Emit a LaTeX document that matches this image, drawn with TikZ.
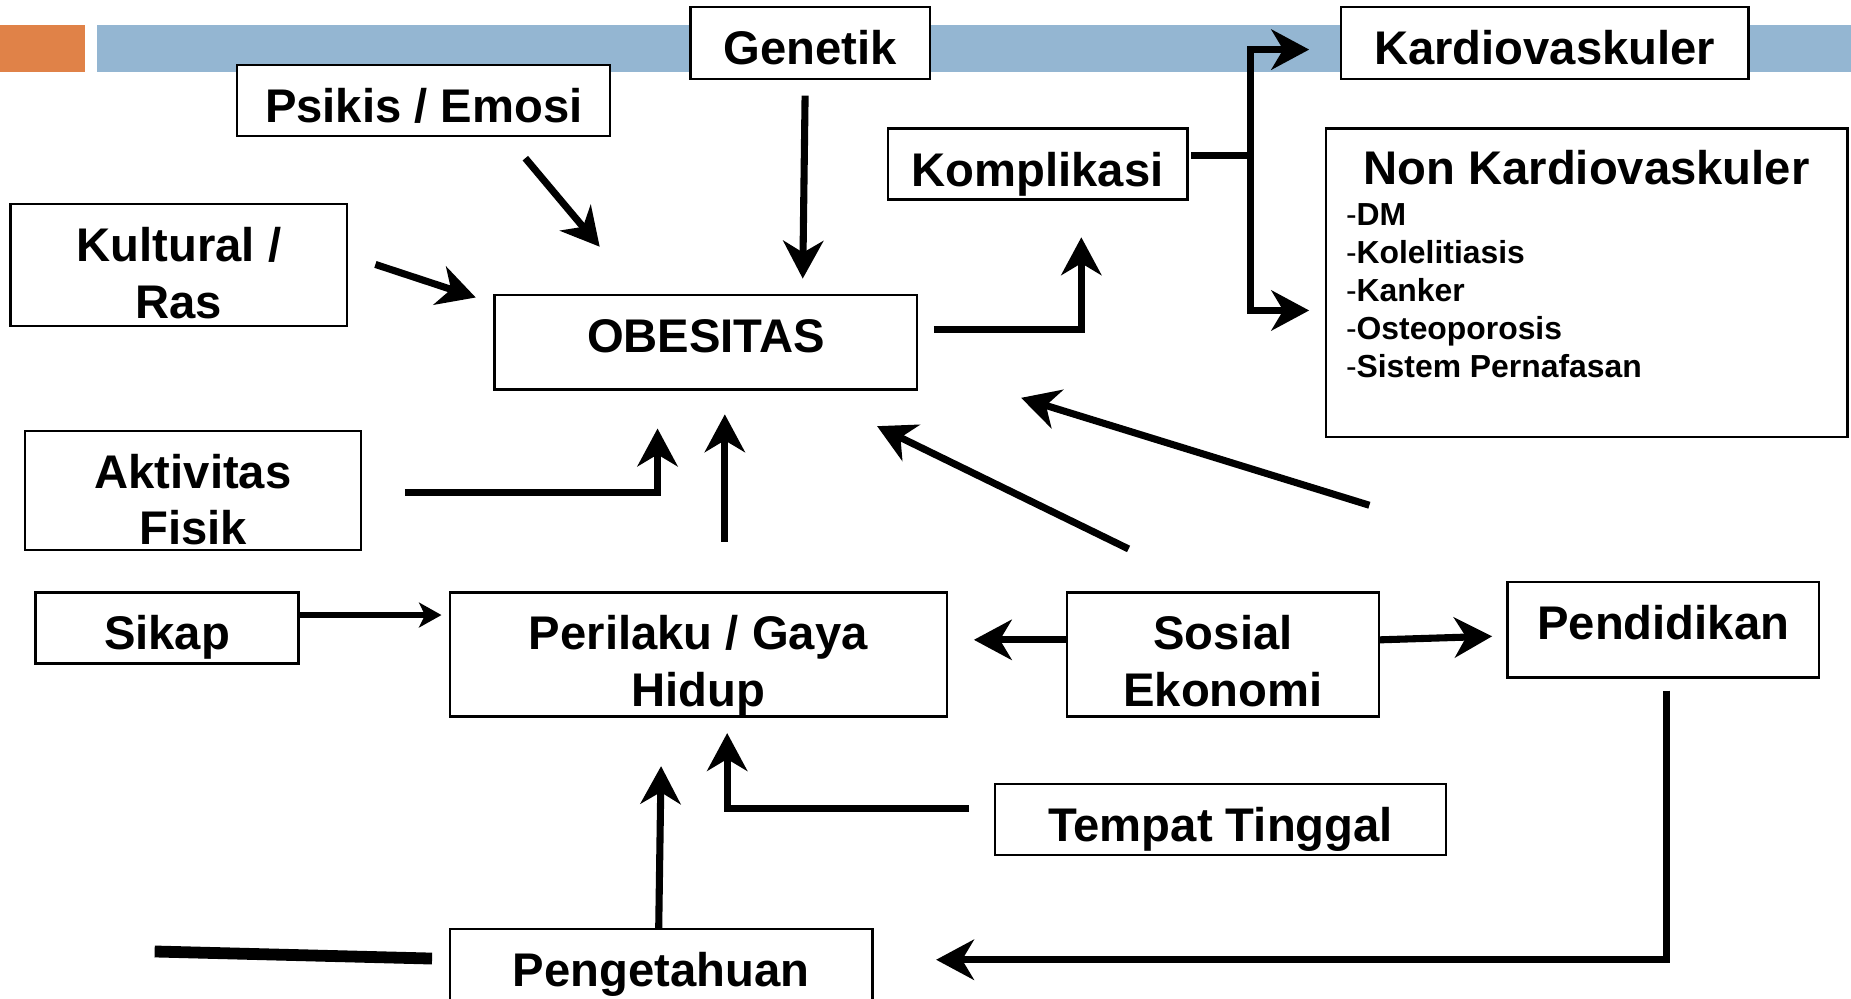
\documentclass[tikz,border=0pt]{standalone}
\usepackage{fontspec}
\setmainfont{Liberation Sans}
\usetikzlibrary{arrows.meta}
\definecolor{barorange}{RGB}{224,130,72}
\definecolor{barblue}{RGB}{148,182,210}
\begin{document}
\begin{tikzpicture}[x=1pt,y=-1pt,
    box/.style={draw=black, line width=2pt, fill=white, inner sep=0pt, align=center,
        font={\fontsize{40}{48}\selectfont\bfseries}},
    lift/.style={text height=#1, text depth=0pt},
    arr/.style={line width=6pt, -{Stealth[length=32pt,width=34pt,inset=10pt]}},
    smallarr/.style={line width=5.5pt, -{Stealth[length=19pt,width=21pt,inset=5pt]}},
    plain/.style={line width=6pt}]
    \useasboundingbox (0,0) rectangle (1568,846);
    \clip (0,0) rectangle (1568,846);

    % Title bar
    \fill[barorange] (0,21) rectangle (72,61);
    \fill[barblue] (82,21) rectangle (1568,61);

    % Boxes
    \node[box, lift=36.2pt, minimum width=203pt, minimum height=61pt] (genetik) at (686.5,36.5) {Genetik};
    \node[box, lift=37.2pt, minimum width=316pt, minimum height=60pt] (psikis) at (359,85) {Psikis / Emosi};
    \node[box, lift=36.2pt, minimum width=345pt, minimum height=61pt] (kardio) at (1308.5,36.5) {Kardiovaskuler};
    \node[box, lift=37.2pt, minimum width=254pt, minimum height=60pt] (komplikasi) at (879,139) {Komplikasi};
    \node[box, minimum width=442pt, minimum height=261pt] (nonkardio) at (1344,239.5) {};
    \node[box, lift=90.2pt, minimum width=285pt, minimum height=103pt] (kultural) at (151.5,224.5) {Kultural /\\Ras};
    \node[box, lift=17.2pt, minimum width=358pt, minimum height=80pt] (obesitas) at (598,290) {OBESITAS};
    \node[box, lift=92.2pt, minimum width=285pt, minimum height=101pt] (aktivitas) at (163.5,415.5) {Aktivitas\\Fisik};
    \node[box, lift=37.2pt, minimum width=223pt, minimum height=60pt] (sikap) at (141.5,532) {Sikap};
    \node[box, lift=88.2pt, minimum width=421pt, minimum height=105pt] (perilaku) at (591.5,554.5) {Perilaku / Gaya\\Hidup};
    \node[box, lift=88.2pt, minimum width=264pt, minimum height=105pt] (sosial) at (1036,554.5) {Sosial\\Ekonomi};
    \node[box, lift=16.2pt, minimum width=264pt, minimum height=81pt] (pendidikan) at (1409,533.5) {Pendidikan};
    \node[box, lift=37.2pt, minimum width=382pt, minimum height=60pt] (tempat) at (1034,694) {Tempat Tinggal};
    \node[box, lift=27.2pt, minimum width=358pt, minimum height=70pt] (pengetahuan) at (560,822) {Pengetahuan};

    % Non Kardiovaskuler contents
    \node[anchor=north, inner sep=0pt, font={\fontsize{40}{48}\selectfont\bfseries}] (nonkardiotitle)
        at ([yshift=-19.4pt]nonkardio.north) {Non Kardiovaskuler};
    \node[anchor=north west, inner sep=0pt, align=left, font={\fontsize{27}{32.25}\selectfont\bfseries}] (nonkardiolist)
        at ([xshift=18pt,yshift=-64.4pt]nonkardio.north west)
        {{\mdseries-}DM\\{\mdseries-}Kolelitiasis\\{\mdseries-}Kanker\\{\mdseries-}Osteoporosis\\{\mdseries-}Sistem Pernafasan};

    % Arrows into OBESITAS
    \draw[arr] ([xshift=-4.5pt,yshift=-13pt]genetik.south) -- ([xshift=82pt,yshift=13pt]obesitas.north);
    \draw[arr] ([xshift=86pt,yshift=-18pt]psikis.south) -- ([xshift=-90pt,yshift=40pt]obesitas.north);
    \draw[arr] ([xshift=23pt,yshift=0.5pt]kultural.east) -- ([xshift=-15pt,yshift=38pt]obesitas.west);
    \draw[arr] ([xshift=36pt,yshift=-1.5pt]aktivitas.east) -| ([xshift=-41pt,yshift=-32pt]obesitas.south);
    \draw[arr] ([xshift=22.5pt,yshift=42pt]perilaku.north) -- ([xshift=16pt,yshift=-20pt]obesitas.south);
    \draw[arr] ([xshift=-80pt,yshift=36pt]sosial.north) -- ([xshift=-35pt,yshift=-30pt]obesitas.south east);
    \draw[arr] ([xshift=-116pt,yshift=64pt]pendidikan.north west) -- ([xshift=87pt,yshift=-47pt]obesitas.east);

    % Komplikasi branch
    \draw[arr] ([xshift=13pt,yshift=11pt]obesitas.east) -| ([xshift=37pt,yshift=-31pt]komplikasi.south);
    \coordinate (branch) at ([xshift=52pt,yshift=7pt]komplikasi.east);
    \draw[plain] ([xshift=2pt,yshift=7pt]komplikasi.east) -- (branch);
    \draw[arr] (branch) |- ([xshift=-26pt,yshift=-5.5pt]kardio.west);
    \draw[arr] (branch) |- ([xshift=-13pt,yshift=-23.5pt]nonkardio.west);

    % Arrows into Perilaku / Gaya Hidup
    \draw[smallarr] ([yshift=11pt]sikap.east) -- ([xshift=-6pt,yshift=33.5pt]perilaku.west);
    \draw[arr] ([yshift=12.5pt]sosial.west) -- ([xshift=22pt,yshift=12.5pt]perilaku.east);
    \draw[arr] ([yshift=12.5pt]sosial.east) -- ([xshift=-12pt,yshift=-5.5pt]pendidikan.west);
    \draw[arr] ([xshift=-21pt,yshift=9pt]tempat.west) -| ([xshift=24.5pt,yshift=-13pt]perilaku.south);
    \draw[arr] ([xshift=-2pt]pengetahuan.north) -- ([xshift=-31.5pt,yshift=-41pt]perilaku.south);

    % Pendidikan to Pengetahuan
    \draw[arr] ([xshift=3pt,yshift=-10pt]pendidikan.south) |- ([xshift=53pt,yshift=9pt]pengetahuan.east);
    \coordinate (pengleft) at (131,806);
    \draw[line width=10pt] (pengleft) -- ([xshift=-14pt,yshift=10pt]pengetahuan.west);
\end{tikzpicture}
\end{document}
